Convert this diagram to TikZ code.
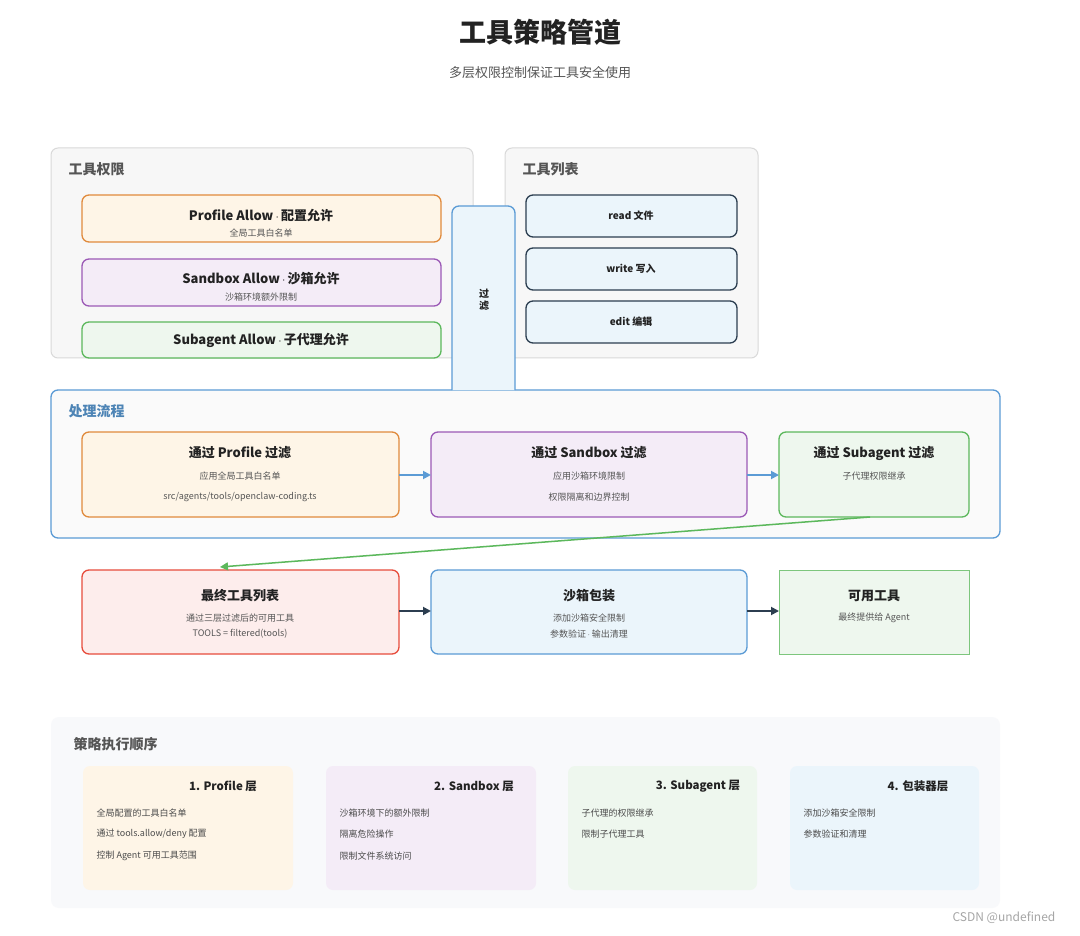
\documentclass[tikz,border=0pt]{standalone}
\usepackage{fontspec}
\setmainfont{Noto Sans CJK SC}
\usetikzlibrary{arrows.meta}
\definecolor{cOr}{HTML}{E08A3C}\definecolor{fOr}{HTML}{FEF5E7}
\definecolor{cPu}{HTML}{9B59B6}\definecolor{fPu}{HTML}{F4ECF7}
\definecolor{cGr}{HTML}{5CB85C}\definecolor{fGr}{HTML}{EEF7EE}
\definecolor{cRe}{HTML}{E74C3C}\definecolor{fRe}{HTML}{FDEDEC}
\definecolor{cBl}{HTML}{5B9BD5}\definecolor{fBl}{HTML}{EBF5FB}
\definecolor{cDk}{HTML}{2C3E50}\definecolor{txt}{HTML}{222222}
\definecolor{sub}{HTML}{555555}\definecolor{fOd}{HTML}{F8F9FB}
\newcommand{\mdot}{\,$\cdot$\,}
\tikzset{
  panel/.style={draw=#1, line width=1pt, rounded corners=7pt},
  card/.style={line width=1.3pt, rounded corners=7pt},
  ttl/.style={font=\bfseries\fontsize{13}{15}\selectfont, text=txt},
  sml/.style={font=\fontsize{9}{11}\selectfont, text=sub},
  hdr/.style={font=\bfseries\fontsize{14}{16}\selectfont, text=sub, anchor=west},
  flow/.style={-{Triangle[length=8pt,width=8pt]}, line width=1.8pt}
}
\begin{document}
\begin{tikzpicture}[x=1pt,y=-1pt]
\useasboundingbox[fill=white] (0,0) rectangle (1080,936);
% title
\node[font=\bfseries\fontsize{27}{30}\selectfont, text=txt] (title) at (540,32) {工具策略管道};
\node[font=\fontsize{13}{15}\selectfont, text=sub] (subtitle) at (540,73) {多层权限控制保证工具安全使用};
% upper panels
\draw[panel=black!15, fill=black!3] (51,148) rectangle (473,358);
\node[hdr] (permhdr) at (65,169) {工具权限};
\draw[panel=black!15, fill=black!3] (505,148) rectangle (758,358);
\node[hdr] (listhdr) at (519,169) {工具列表};
\draw[card, draw=cOr, fill=fOr] (82,195) rectangle (441,242);
\node[ttl] (pa) at (261,216) {Profile Allow\mdot 配置允许};
\node[sml] (pas) at (261,233) {全局工具白名单};
\draw[card, draw=cPu, fill=fPu] (82,259) rectangle (441,306);
\node[ttl] (sa) at (261,279) {Sandbox Allow\mdot 沙箱允许};
\node[sml] (sas) at (261,297) {沙箱环境额外限制};
\draw[card, draw=cGr, fill=fGr] (82,322) rectangle (441,358);
\node[ttl] (ga) at (261,340) {Subagent Allow\mdot 子代理允许};
\foreach \y/\t/\n in {195/read 文件/rd, 248/write 写入/wr, 301/edit 编辑/ed}{
  \draw[card, draw=cDk, fill=fBl] (526,\y) rectangle (737,\y+42);
  \node[font=\bfseries\fontsize{10}{12}\selectfont, text=txt] (\n) at (631,\y+21) {\t};
}
% process panel
\draw[panel=cBl, line width=1.3pt, fill=black!2] (51,390) rectangle (1000,538);
\draw[card, draw=cBl, fill=fBl] (452,390) -- (452,206) -- (515,206) -- (515,390);
\node[font=\bfseries\fontsize{10}{12}\selectfont, text=txt, align=center] (filt) at (484,300) {过\\滤};
\node[hdr, text=cBl!85!black] (prochdr) at (65,411) {处理流程};
\draw[card, draw=cOr, fill=fOr] (82,432) rectangle (399,517);
\node[ttl] (p1) at (240,453) {通过 Profile 过滤};
\node[sml] at (240,476) {应用全局工具白名单};
\node[sml] at (240,497) {src/agents/tools/openclaw-coding.ts};
\draw[card, draw=cPu, fill=fPu] (431,432) rectangle (747,517);
\node[ttl] (p2) at (589,453) {通过 Sandbox 过滤};
\node[sml] at (589,476) {应用沙箱环境限制};
\node[sml] at (589,497) {权限隔离和边界控制};
\draw[card, draw=cGr, fill=fGr] (779,432) rectangle (969,517);
\node[ttl] (p3) at (874,453) {通过 Subagent 过滤};
\node[sml] at (874,476) {子代理权限继承};
\coordinate (a1) at (399,475); \coordinate (b1) at (431,475);
\coordinate (a2) at (747,475); \coordinate (b2) at (779,475);
\draw[flow, draw=cBl] (a1) -- (b1);
\draw[flow, draw=cBl] (a2) -- (b2);
% result row
\draw[card, draw=cRe, fill=fRe] (82,570) rectangle (399,654);
\node[ttl] (r1) at (240,596) {最终工具列表};
\node[sml] at (240,618) {通过三层过滤后的可用工具};
\node[sml] at (240,634) {TOOLS = filtered(tools)};
\draw[card, draw=cBl, fill=fBl] (431,570) rectangle (747,654);
\node[ttl] (r2) at (589,596) {沙箱包装};
\node[sml] at (589,618) {添加沙箱安全限制};
\node[sml] at (589,634) {参数验证\mdot 输出清理};
\draw[line width=0.8pt, draw=cGr!80, fill=fGr] (779,570) rectangle (969,654);
\node[ttl] (r3) at (874,596) {可用工具};
\node[sml] at (874,618) {最终提供给 Agent};
\coordinate (g1) at (870,517); \coordinate (g2) at (220,567);
\draw[flow, draw=cGr, line width=1.5pt] (g1) -- (g2);
\coordinate (c1) at (399,611); \coordinate (d1) at (431,611);
\coordinate (c2) at (747,611); \coordinate (d2) at (779,611);
\draw[flow, draw=cDk] (c1) -- (d1);
\draw[flow, draw=cDk] (c2) -- (d2);
% order panel
\fill[fOd, rounded corners=8pt] (51,717) rectangle (1000,908);
\node[hdr] (ordhdr) at (70,744) {策略执行顺序};
\foreach \xa/\xb/\cf/\xt/\t/\n in {83/293/fOr/223/1. Profile 层/o1, 326/536/fPu/474/2. Sandbox 层/o2, 568/757/fGr/698/3. Subagent 层/o3, 790/979/fBl/918/4. 包装器层/o4}{
  \fill[\cf, rounded corners=7pt] (\xa,766) rectangle (\xb,890);
  \node[font=\bfseries\fontsize{11.5}{13}\selectfont, text=txt] (\n) at (\xt,786) {\t};
}
\foreach \x/\y/\t in {93/813/全局配置的工具白名单, 93/834/{通过 tools.allow/deny 配置}, 93/856/控制 Agent 可用工具范围,
  336/813/沙箱环境下的额外限制, 336/834/隔离危险操作, 336/856/限制文件系统访问,
  578/813/子代理的权限继承, 578/834/限制子代理工具,
  800/813/添加沙箱安全限制, 800/834/参数验证和清理}
  \node[sml, anchor=west, text=black!70] at (\x,\y) {\t};
\node[font=\fontsize{12}{14}\selectfont, text=black!35] (wm) at (1004,918) {CSDN @undefined};
\end{tikzpicture}
\end{document}
